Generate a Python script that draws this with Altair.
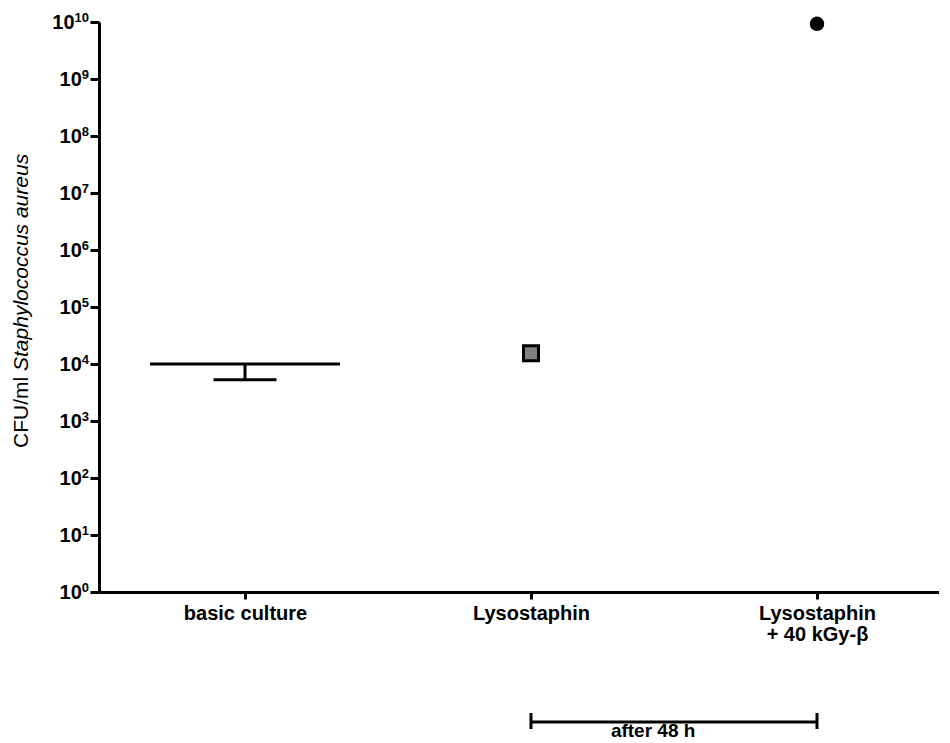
import json
import altair as alt
import pandas as pd

# ---------------- data ----------------
groups = [1, 2, 3]
group_label_lines = [["basic culture"], ["Lysostaphin"], ["Lysostaphin", "+ 40 kGy-β"]]
mean_values = [1.0e4, 1.55e4, 9.3e9]
lower_values = [5.3e3]          # lower error limit, basic culture only
y_tick_values = [10 ** i for i in range(11)]
y_tick_exponents = [str(i) for i in range(11)]
bracket_groups = [2, 3]
bracket_text = "after 48 h"
title_plain = "CFU/ml "
title_italic = "Staphylococcus aureus"

FONT = "Liberation Sans"

basic = pd.DataFrame({"g": [groups[0]], "mean": [mean_values[0]], "low": lower_values})
lyso = pd.DataFrame({"g": [groups[1]], "mean": [mean_values[1]]})
combo = pd.DataFrame({"g": [groups[2]], "mean": [mean_values[2]]})
bracket = pd.DataFrame({"start": [bracket_groups[0]], "end": [bracket_groups[1]]})
bracket_ends = pd.DataFrame({"g": bracket_groups})
bracket_label = pd.DataFrame({"g": [(bracket_groups[0] + bracket_groups[1]) / 2 - 0.073], "t": [bracket_text]})
ticks_df = pd.DataFrame({"v": y_tick_values, "e": y_tick_exponents})

xs = alt.Scale(domain=[0.4895, 3.4266], nice=False, zero=False)
ys = alt.Scale(type="log", domain=[1, 1e10], nice=False)

x_label_expr = json.dumps(group_label_lines, ensure_ascii=False) + "[datum.value - 1]"

x_axis = alt.Axis(values=groups, labelExpr=x_label_expr, title=None, grid=False,
                  labelFont=FONT, labelFontSize=20, labelFontWeight="bold", labelColor="black",
                  labelPadding=4, labelLineHeight=21, tickSize=7, tickWidth=3, tickColor="black",
                  domainWidth=3, domainColor="black", labelFlush=False, labelOverlap=False)
y_axis = alt.Axis(values=y_tick_values, labels=False, title=None, grid=False,
                  tickSize=9, tickWidth=3, tickColor="black",
                  domainWidth=3, domainColor="black")

X = alt.X("g:Q", scale=xs, axis=x_axis)
Y = alt.Y("mean:Q", scale=ys, axis=y_axis)

mean_line = alt.Chart(basic).mark_tick(orient="horizontal", size=190, thickness=3, color="black", opacity=1).encode(x=X, y=Y)
err_rule = alt.Chart(basic).mark_rule(strokeWidth=3, color="black").encode(
    x=alt.X("g:Q", scale=xs), y=alt.Y("mean:Q", scale=ys), y2="low:Q")
err_cap = alt.Chart(basic).mark_tick(orient="horizontal", size=63, thickness=3, color="black", opacity=1).encode(
    x=alt.X("g:Q", scale=xs), y=alt.Y("low:Q", scale=ys))
square = alt.Chart(lyso).mark_square(size=225, fill="#808080", stroke="black", strokeWidth=3, opacity=1, fillOpacity=1).encode(
    x=alt.X("g:Q", scale=xs), y=alt.Y("mean:Q", scale=ys))
circle = alt.Chart(combo).mark_circle(size=210, color="black", opacity=1).encode(
    x=alt.X("g:Q", scale=xs), y=alt.Y("mean:Q", scale=ys))

# y tick labels: "10" with a raised exponent
exp_text = alt.Chart(ticks_df).mark_text(font=FONT, fontSize=13, fontWeight="bold", color="black",
                                         align="right", baseline="alphabetic", dy=0).encode(
    x=alt.value(-10), y=alt.Y("v:Q", scale=ys), text="e:N")
base_text = alt.Chart(ticks_df).transform_calculate(
    px="-10 - 7.2 * length(datum.e)", base="'10'"
).mark_text(font=FONT, fontSize=20, fontWeight="bold", color="black",
            align="right", baseline="alphabetic", dy=7).encode(
    x=alt.X("px:Q", scale=None), y=alt.Y("v:Q", scale=ys), text="base:N")

br_line = alt.Chart(bracket).mark_rule(strokeWidth=3, color="black").encode(
    x=alt.X("start:Q", scale=xs), x2="end:Q", y=alt.value(700))
br_ends = alt.Chart(bracket_ends).mark_rule(strokeWidth=3, color="black").encode(
    x=alt.X("g:Q", scale=xs), y=alt.value(691), y2=alt.value(707))
br_text = alt.Chart(bracket_label).mark_text(font=FONT, fontSize=19, fontWeight="bold", color="black",
                                             baseline="top", align="center").encode(
    x=alt.X("g:Q", scale=xs), y=alt.value(700), text="t:N")

title_df = pd.DataFrame({"a": [title_plain], "b": [title_italic]})
t1 = alt.Chart(title_df).mark_text(font=FONT, fontSize=21, color="black", angle=270, align="left",
                                   baseline="alphabetic").encode(x=alt.value(-71), y=alt.value(426), text="a:N")
t2 = alt.Chart(title_df).mark_text(font=FONT, fontSize=21, fontStyle="italic", color="black", angle=270, align="left",
                                   baseline="alphabetic").encode(x=alt.value(-71), y=alt.value(349), text="b:N")

chart = alt.layer(mean_line, err_rule, err_cap, square, circle, exp_text, base_text,
                  br_line, br_ends, br_text, t1, t2).properties(
    width=840, height=570,
    autosize=alt.AutoSizeParams(type="none"),
    padding={"left": 91, "top": 14, "right": 0, "bottom": 150},
    background="white",
).configure_view(stroke=None)

chart.save("out.html", embed_options={"renderer": "svg", "actions": False})
